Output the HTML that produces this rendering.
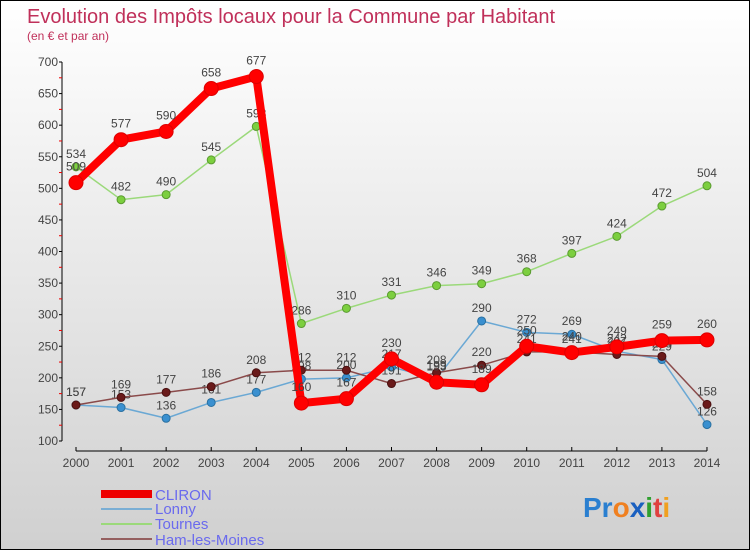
<!DOCTYPE html>
<html><head><meta charset="utf-8"><style>
body{margin:0}
#c{position:relative;width:748px;height:548px;border:1px solid #000;background:linear-gradient(#fff,#d0d0d0);font-family:"Liberation Sans",sans-serif;overflow:hidden}
</style></head><body>
<div id="c">
<svg id="s" width="748" height="548" style="position:absolute;left:0;top:0">
<text x="26" y="22" font-size="20" fill="#c0305a">Evolution des Impôts locaux pour la Commune par Habitant</text>
<text x="26" y="39" font-size="12" fill="#c0305a">(en € et par an)</text>
<g id="axes"></g><g id="series"></g>
<g>
<rect x="100" y="489" width="51" height="8" fill="#e00"/>
<text x="154" y="499" font-size="15" fill="#6a6aee">CLIRON</text>
<rect x="100" y="507" width="51" height="2" fill="#7aaed4"/>
<text x="154" y="513" font-size="15" fill="#6a6aee">Lonny</text>
<rect x="100" y="522" width="51" height="2" fill="#9bd97a"/>
<text x="154" y="528" font-size="15" fill="#6a6aee">Tournes</text>
<rect x="100" y="537" width="51" height="2" fill="#956060"/>
<text x="154" y="544" font-size="15" fill="#6a6aee">Ham-les-Moines</text>
</g>
<text x="582" y="516" font-size="28" font-weight="bold"><tspan fill="#2a7fd0">Pr</tspan><tspan fill="#f08020">o</tspan><tspan fill="#1a60c0">x</tspan><tspan fill="#30a030">i</tspan><tspan fill="#e04040">t</tspan><tspan fill="#f0a020">i</tspan></text>
</svg></div>
<script>
const years=[2000,2001,2002,2003,2004,2005,2006,2007,2008,2009,2010,2011,2012,2013,2014];
const yTicks=[100,150,200,250,300,350,400,450,500,550,600,650,700];
const cliron=[509,577,590,658,677,160,167,230,193,189,250,240,249,259,260];
const lonny=[157,153,136,161,177,198,200,217,199,290,272,269,242,229,126];
const tournes=[534,482,490,545,598,286,310,331,346,349,368,397,424,472,504];
const ham=[157,169,177,186,208,212,212,191,208,220,241,241,237,234,158];
const NS="http://www.w3.org/2000/svg";
function xs(i){return 75+i*45.07;}
function ys(v){return 440-(v-100)*379/600;}
function mk(t,a,p){const e=document.createElementNS(NS,t);for(const k in a)e.setAttribute(k,a[k]);p.appendChild(e);return e;}
const ax=document.getElementById('axes');
let l=mk('line',{x1:61,y1:61,x2:61,y2:440,stroke:'#000'},ax);


l=mk('line',{x1:75,y1:450,x2:706,y2:450,stroke:'#000'},ax);


yTicks.forEach((v,i)=>{const y=ys(v);mk('line',{x1:58,y1:y,x2:61,y2:y,stroke:'#000'},ax);
if(i<yTicks.length-1)mk('line',{x1:58,y1:ys(v+25),x2:61,y2:ys(v+25),stroke:'#e00'},ax);
const t=mk('text',{x:57,y:y+4,'font-size':12,fill:'#444','text-anchor':'end'},ax);t.textContent=v;

});
years.forEach((yr,i)=>{const x=xs(i);mk('line',{x1:x,y1:446,x2:x,y2:450,stroke:'#000'},ax);
const t=mk('text',{x:x,y:466,'font-size':12,fill:'#444','text-anchor':'middle'},ax);t.textContent=yr;

});
const sg=document.getElementById('series');
function draw(d,name,col,w,r,dot,stroke){
const g=mk('g',{},sg);


mk('polyline',{points:d.map((v,i)=>xs(i)+','+ys(v)).join(' '),fill:'none',stroke:col,'stroke-width':w,'stroke-linejoin':'round'},g);
d.forEach((v,i)=>{const c=mk('circle',{cx:xs(i),cy:ys(v),r:r,fill:dot,stroke:stroke,'stroke-width':1},g);


const t=mk('text',{x:xs(i),y:ys(v)-r-5,'font-size':12,fill:'#444','text-anchor':'middle'},g);t.textContent=v;

});}
draw(tournes,'tournes','#9bd97a',1.5,4,'#7ccf3f','#5a9a30');
draw(lonny,'lonny','#6aa8d4',1.5,4,'#3a90d0','#2a70a0');
draw(ham,'ham','#8a4a4a',1.5,4,'#6a1a1a','#4a1010');
draw(cliron,'cliron','#f00',8,7,'#f00','#d00');
</script>
</body></html>
